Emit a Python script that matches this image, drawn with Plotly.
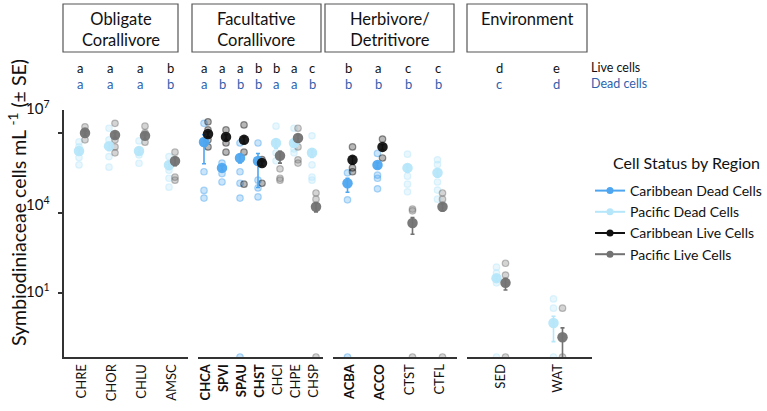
import plotly.graph_objects as go

# ---------------- data ----------------
CATEGORIES = ["CHRE", "CHOR", "CHLU", "AMSC",
              "CHCA", "SPVI", "SPAU", "CHST", "CHCI", "CHPE", "CHSP",
              "ACBA", "ACCO", "CTST", "CTFL",
              "SED", "WAT"]
GROUP = [0, 0, 0, 0, 1, 1, 1, 1, 1, 1, 1, 2, 2, 2, 2, 3, 3]
CARIBBEAN = ["CHCA", "SPVI", "SPAU", "CHST", "ACBA", "ACCO"]
GROUP_TITLES = ["Obligate<br>Corallivore", "Facultative<br>Corallivore",
                "Herbivore/<br>Detritivore", "Environment"]
LIVE_LETTERS = ["a", "a", "a", "b", "a", "a", "a", "b", "b", "a", "c",
                "b", "a", "c", "c", "d", "e"]
DEAD_LETTERS = ["a", "a", "a", "b", "a", "b", "b", "b", "a", "a", "b",
                "b", "b", "b", "b", "c", "d"]

N = None
# Caribbean dead cells (cells mL-1)
CD_MEAN = [N, N, N, N, 4.6e6, 4.9e5, 1.15e6, 8.9e5, N, N, N, 1.3e5, 6.3e5, N, N, N, N]
CD_SE = [N, N, N, N, 3.9e6, 1.0e5, 4.0e5, 8.0e5, N, N, N, 7.0e4, 1.5e5, N, N, N, N]
CD_POINTS = [N, N, N, N,
             [2.3e7, 4.0e6, 3.5e5, 7.0e4, 3.6e4],
             [7.4e5, 3.0e5, 1.45e5],
             [4.2e6, 3.5e5, 1.3e5, 3.6e4, 0],
             [4.2e6, 1.7e5, 8.7e4, 4.0e4],
             N, N, N,
             [3.2e5, 3.1e4, 0],
             [1.7e6, 2.6e5, 2.0e5, 8.0e4],
             N, N, N, N]
# Pacific dead cells
PD_MEAN = [2.1e6, 3.2e6, 2.1e6, 6.3e5, N, N, N, N, 4.2e6, 4.2e6, 1.8e6, N, N, 4.9e5, 3.2e5, 36, 0.75]
PD_SE = [5e5, 1e6, 5e5, 2e5, N, N, N, N, 1.5e6, 1.0e6, 6e5, N, N, 1.5e5, 1.0e5, 8, 0.6]
PD_POINTS = [[4.6e6, 3.0e6, 1.2e6, 6.3e5],
             [1.5e7, 5.5e6, 1.3e6, 5.2e5],
             [5.0e6, 1.5e6, 7.3e5],
             [1.3e6, 4.0e5, 2.0e5, 9.3e4],
             N, N, N, N,
             [1.8e7, 1.8e6, 9.0e5],
             [1.5e7, 2.5e6, 1.8e6],
             [7.8e6, 6.3e5, 2.2e5, 1.7e5],
             N, N,
             [1.6e6, 2.4e5, 1.2e5, 6.2e4],
             [9.8e5, 6.5e5, 1.45e5, 7.2e4, 3.3e4],
             [93, 56, 24, 0],
             [6.0, 2.7, 0]]
# Caribbean live cells
CL_MEAN = [N, N, N, N, 9.1e6, 7.1e6, 5.5e6, 7.4e5, N, N, N, 9.8e5, 3.0e6, N, N, N, N]
CL_SE = [N, N, N, N, 2.0e6, 1.5e6, 1.5e6, 1.5e5, N, N, N, 3.0e5, 6.0e5, N, N, N, N]
CL_POINTS = [N, N, N, N,
             [2.6e7, 1.3e7, 5.5e6, 3.0e6],
             [1.3e7, 4.2e6, 1.9e6],
             [2.0e7, 1.9e6, 1.2e5],
             [1.0e6, 1.3e5],
             N, N, N,
             [3.0e6, 4.9e5, 3.5e5],
             [5.9e6, 1.15e6],
             N, N, N, N]
# Pacific live cells
PL_MEAN = [1.0e7, 8.4e6, 7.8e6, 8.9e5, N, N, N, N, 1.4e6, 6.5e6, 1.7e4, N, N, 4.2e3, 1.7e4, 24, 0.22]
PL_SE = [2e6, 2e6, 2e6, 3e5, N, N, N, N, 6.6e5, 2e6, 6e3, N, N, 2.6e3, 5e3, 11, 0.27]
PL_POINTS = [[1.7e7, 1.2e7, 5.5e6],
             [2.3e7, 5.5e6, 3.0e6, 1.8e6],
             [1.8e7, 1.0e7, 4.5e6],
             [1.9e6, 2.2e5, 1.7e5],
             N, N, N, N,
             [4.5e5, 2.0e5, 1.7e5],
             [1.5e7, 3.0e6, 9.8e5, 7.4e5],
             [5.6e4, 3.3e4, 0],
             N, N,
             [1.4e4, 1.2e4, 0],
             [5.6e4, 3.3e4, 0],
             [130, 47, 0],
             [2.7, 0]]

SERIES = [
    ("Caribbean Dead Cells", CD_MEAN, CD_SE, CD_POINTS, "#4ea6f0", -1),
    ("Pacific Dead Cells", PD_MEAN, PD_SE, PD_POINTS, "#b6e6fa", -1),
    ("Caribbean Live Cells", CL_MEAN, CL_SE, CL_POINTS, "#111111", 1),
    ("Pacific Live Cells", PL_MEAN, PL_SE, PL_POINTS, "#727272", 1),
]

# ---------------- layout geometry (pixels) ----------------
W, H = 767, 411
PL, PR, PT, PB = 64, 592, 110, 357
SEG_PX = [(64, 188), (198, 323), (333, 457), (467, 592)]
FIRST_LAST_PX = [(82, 172), (206, 314), (350, 440), (501, 558)]
DODGE_PX = [3, 2, 2.5, 4.5]
Y_LOG_RANGE = [-1.4, 7.86]
FLOOR = 10 ** Y_LOG_RANGE[0]
FONT = "Lato"
DEAD_TXT = "#2f62ad"


def pxx(x):
    return (x - PL) / (PR - PL)


def pxy(y):
    return (PB - y) / (PB - PT)


def hex_rgba(h, a):
    h = h.lstrip("#")
    r, g, b = int(h[0:2], 16), int(h[2:4], 16), int(h[4:6], 16)
    return f"rgba({r},{g},{b},{a})"


group_members = [[i for i, g in enumerate(GROUP) if g == k] for k in range(4)]
axis_names = ["x", "x2", "x3", "x4"]
units = []
ranges = []
for k in range(4):
    n = len(group_members[k])
    f, l = FIRST_LAST_PX[k]
    upx = (l - f) / (n - 1)
    units.append(upx)
    s0, s1 = SEG_PX[k]
    ranges.append([(s0 - f) / upx, (s1 - f) / upx])

fig = go.Figure()

# individual points
for name, mean, se, pts, col, side in SERIES:
    for k in range(4):
        xs, ys = [], []
        for j, ci in enumerate(group_members[k]):
            if pts[ci] is None:
                continue
            for v in pts[ci]:
                xs.append(j + side * DODGE_PX[k] / units[k])
                ys.append(v if v > 0 else FLOOR)
        if xs:
            fig.add_trace(go.Scatter(
                x=xs, y=ys, mode="markers", xaxis=axis_names[k], yaxis="y",
                showlegend=False, hoverinfo="skip",
                marker=dict(size=6.5, color=hex_rgba(col, 0.3),
                            line=dict(color=hex_rgba(col, 0.45), width=1.2)),
            ))

# means with SE
for name, mean, se, pts, col, side in SERIES:
    for k in range(4):
        xs, ys, es = [], [], []
        for j, ci in enumerate(group_members[k]):
            if mean[ci] is None:
                continue
            xs.append(j + side * DODGE_PX[k] / units[k])
            ys.append(mean[ci])
            es.append(se[ci])
        if xs:
            fig.add_trace(go.Scatter(
                x=xs, y=ys, mode="markers", xaxis=axis_names[k], yaxis="y",
                showlegend=False, name=name,
                marker=dict(size=10.5, color=col, opacity=0.95),
                error_y=dict(type="data", array=es, visible=True, color=col,
                             thickness=1.6, width=2),
            ))

# legend entries
for name, mean, se, pts, col, side in SERIES:
    fig.add_trace(go.Scatter(
        x=[None], y=[None], mode="lines+markers", name=name,
        xaxis="x4", yaxis="y",
        line=dict(color=col, width=2), marker=dict(size=7, color=col),
    ))

layout = dict(
    width=W, height=H,
    margin=dict(l=PL, r=W - PR, t=PT, b=H - PB, pad=0, autoexpand=False),
    paper_bgcolor="white", plot_bgcolor="white",
    font=dict(family=FONT, color="#111111"),
    showlegend=True,
    legend=dict(
        x=pxx(590), y=pxy(175), xanchor="left", yanchor="top",
        font=dict(size=14, family=FONT), tracegroupgap=0,
        bgcolor="rgba(0,0,0,0)", itemwidth=30,
    ),
    yaxis=dict(
        type="log", range=Y_LOG_RANGE, anchor="x",
        showline=True, linecolor="#333333", linewidth=2,
        showgrid=False, zeroline=False,
        tickvals=[10, 1e4, 1e7], showticklabels=False,
        ticks="outside", ticklen=4, tickwidth=2, tickcolor="#333333",
    ),
)
for k in range(4):
    key = "xaxis" if k == 0 else f"xaxis{k + 1}"
    idx = group_members[k]
    layout[key] = dict(
        domain=[pxx(SEG_PX[k][0]), pxx(SEG_PX[k][1])],
        anchor="y", range=ranges[k],
        showline=True, linecolor="#333333", linewidth=2,
        showgrid=False, zeroline=False, ticks="",
        tickvals=list(range(len(idx))),
        ticktext=[f"<b>{CATEGORIES[i]}</b>" if CATEGORIES[i] in CARIBBEAN else CATEGORIES[i]
                  for i in idx],
        tickangle=-90, tickfont=dict(size=13, family=FONT, color="#111111"),
    )
fig.update_layout(**layout)

# legend title (indented as in the reference)
fig.add_annotation(xref="paper", yref="paper", x=pxx(611), y=pxy(162),
                   xanchor="left", yanchor="middle", showarrow=False,
                   text="Cell Status by Region", font=dict(size=16, family=FONT, color="#111111"))

# header boxes
BOX_PX = [(63, 178), (192, 321), (325, 454), (467, 587)]
for k, (b0, b1) in enumerate(BOX_PX):
    fig.add_shape(type="rect", xref="paper", yref="paper",
                  x0=pxx(b0), x1=pxx(b1), y0=pxy(52), y1=pxy(4),
                  line=dict(color="#555555", width=1.2), fillcolor="white")
    fig.add_annotation(xref="paper", yref="paper", x=pxx((b0 + b1) / 2), y=pxy(7),
                       xanchor="center", yanchor="top", showarrow=False,
                       text=GROUP_TITLES[k], font=dict(size=16.5, family=FONT, color="#111111"))

# significance letters
for ci, cat in enumerate(CATEGORIES):
    k = GROUP[ci]
    j = group_members[k].index(ci)
    xa = axis_names[k]
    for txt, ypix, col in ((LIVE_LETTERS[ci], 67.5, "#111111"), (DEAD_LETTERS[ci], 83.5, DEAD_TXT)):
        fig.add_annotation(xref=xa, yref="paper", x=j, y=pxy(ypix), xshift=-2,
                           xanchor="center", yanchor="middle", showarrow=False,
                           text=txt, font=dict(size=13, family=FONT, color=col))
fig.add_annotation(xref="paper", yref="paper", x=pxx(589), y=pxy(67.5), xanchor="left",
                   yanchor="middle", showarrow=False, text="Live cells",
                   font=dict(size=12.5, family=FONT, color="#111111"))
fig.add_annotation(xref="paper", yref="paper", x=pxx(589), y=pxy(83.5), xanchor="left",
                   yanchor="middle", showarrow=False, text="Dead cells",
                   font=dict(size=12.5, family=FONT, color=DEAD_TXT))

# y tick labels (placed as in the reference)
for txt, ypix in (("10<sup>7</sup>", 107), ("10<sup>4</sup>", 203), ("10<sup>1</sup>", 290)):
    fig.add_annotation(xref="paper", yref="paper", x=pxx(38), y=pxy(ypix),
                       xanchor="center", yanchor="middle", showarrow=False,
                       text=txt, font=dict(size=15, family=FONT, color="#111111"))

# y axis title
fig.add_annotation(xref="paper", yref="paper", x=pxx(17), y=pxy(203),
                   xanchor="center", yanchor="middle", showarrow=False, textangle=-90,
                   text="Symbiodiniaceae cells mL <sup>-1</sup> (± SE)",
                   font=dict(size=19.5, family=FONT, color="#111111"))

fig.write_html("out.html")
